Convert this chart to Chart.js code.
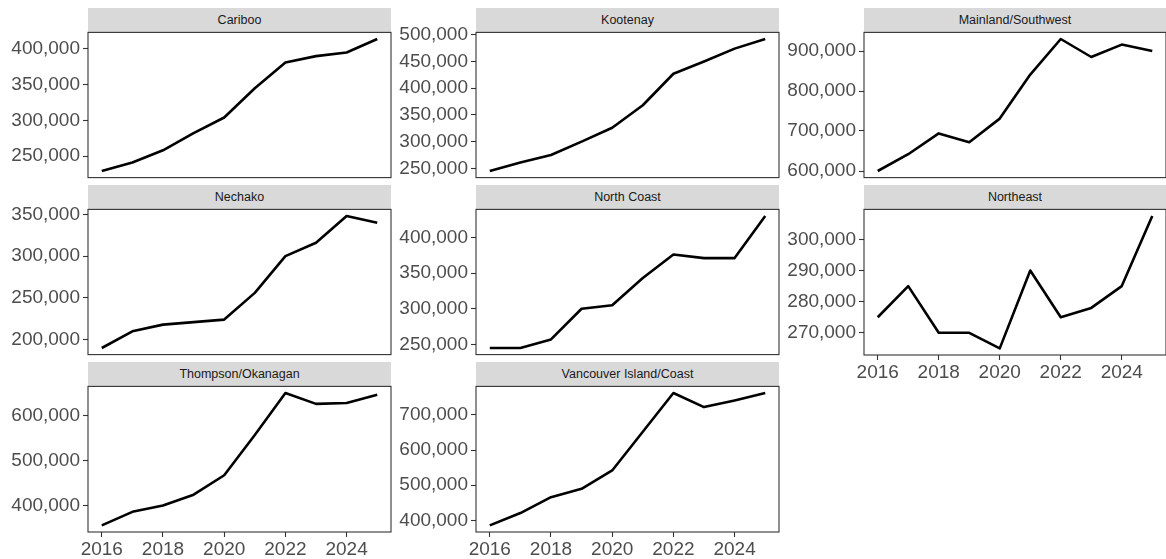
<!DOCTYPE html>
<html>
<head>
<meta charset="utf-8">
<title>Regional values 2016-2025</title>
<script src="https://cdn.jsdelivr.net/npm/chart.js@4/dist/chart.umd.min.js"></script>
<style>
  body { margin: 0; background: #fff; }
  #grid { position: relative; width: 1166px; height: 559px; overflow: hidden; }
  .strip {
    position: absolute; height: 24px; background: #d9d9d9;
    text-align: center; color: #1a1a1a;
    font: 12.5px "Liberation Sans", Arial, sans-serif; line-height: 25px;
  }
  canvas { position: absolute; }
</style>
</head>
<body>
<div id="grid"></div>
<script>
const years = [2016, 2017, 2018, 2019, 2020, 2021, 2022, 2023, 2024, 2025];
const yearTicks = [2016, 2018, 2020, 2022, 2024];

const regions = ['Cariboo', 'Kootenay', 'Mainland/Southwest', 'Nechako', 'North Coast',
                 'Northeast', 'Thompson/Okanagan', 'Vancouver Island/Coast'];

const cariboo = [229000, 241000, 258000, 282000, 304000, 345000, 381000, 390000, 395000, 414000];
const kootenay = [245000, 261000, 275000, 300000, 326000, 368000, 427000, 450000, 474000, 492000];
const mainland = [600000, 642000, 694000, 672000, 731000, 841000, 930000, 885000, 916000, 900000];
const nechako = [190000, 210000, 218000, 221000, 224000, 256000, 300000, 316000, 348000, 340000];
const northCoast = [245000, 245000, 257000, 300000, 305000, 343000, 376000, 371000, 371000, 430000];
const northeast = [275000, 285000, 270000, 270000, 265000, 290000, 275000, 278000, 285000, 307500];
const thompson = [357000, 387000, 401000, 425000, 468000, 557000, 650000, 626000, 628000, 646000];
const vancouverIsland = [386000, 421000, 466000, 490000, 542000, 652000, 762000, 722000, 741000, 762000];

const caribooTicks = [250000, 300000, 350000, 400000];
const kootenayTicks = [250000, 300000, 350000, 400000, 450000, 500000];
const mainlandTicks = [600000, 700000, 800000, 900000];
const nechakoTicks = [200000, 250000, 300000, 350000];
const northCoastTicks = [250000, 300000, 350000, 400000];
const northeastTicks = [270000, 280000, 290000, 300000];
const thompsonTicks = [400000, 500000, 600000];
const vancouverIslandTicks = [400000, 500000, 600000, 700000];

const series = [cariboo, kootenay, mainland, nechako, northCoast, northeast, thompson, vancouverIsland];
const tickSets = [caribooTicks, kootenayTicks, mainlandTicks, nechakoTicks, northCoastTicks,
                  northeastTicks, thompsonTicks, vancouverIslandTicks];

// facet geometry
const colLeft = [88, 476, 864];
const colWidth = [303, 303, 302];
const rowTop = [32, 209, 386];
const plotH = 146;
const stripH = 24;
const axisW = 85;
const padTop = 14;
const xAxisH = 28;
const FONT = '"Liberation Sans", Arial, sans-serif';

// black frame around each panel
const frame = {
  id: 'frame',
  afterDatasetsDraw(chart) {
    const { ctx, chartArea: a } = chart;
    ctx.save();
    ctx.strokeStyle = '#333';
    ctx.lineWidth = 1.1;
    ctx.strokeRect(a.left, a.top, a.right - a.left, a.bottom - a.top);
    ctx.restore();
  }
};

function expand(vals, mult) {
  const lo = Math.min(...vals), hi = Math.max(...vals);
  const pad = (hi - lo) * mult;
  return [lo - pad, hi + pad];
}

const grid = document.getElementById('grid');

regions.forEach((name, i) => {
  const col = i % 3, row = Math.floor(i / 3);
  const left = colLeft[col], top = rowTop[row], w = colWidth[col];
  // bottom panel of each column carries the year axis
  const showX = (row === 2) || (row === 1 && col === 2);

  const strip = document.createElement('div');
  strip.className = 'strip';
  strip.style.left = left + 'px';
  strip.style.top = (top - stripH) + 'px';
  strip.style.width = w + 'px';
  strip.textContent = name;
  grid.appendChild(strip);

  const canvas = document.createElement('canvas');
  const cw = axisW + w + 3;
  const ch = padTop + plotH + (showX ? xAxisH : padTop);
  canvas.width = cw;
  canvas.height = ch;
  canvas.style.left = (left - axisW) + 'px';
  canvas.style.top = (top - padTop) + 'px';
  canvas.style.width = cw + 'px';
  canvas.style.height = ch + 'px';
  grid.appendChild(canvas);

  const vals = series[i];
  const [yMin, yMax] = expand(vals, 0.05);
  const yTicks = tickSets[i];

  new Chart(canvas.getContext('2d'), {
    type: 'line',
    data: {
      datasets: [{
        data: years.map((yr, k) => ({ x: yr, y: vals[k] })),
        borderColor: '#000',
        borderWidth: 2.6,
        borderJoinStyle: 'round',
        pointRadius: 0,
        tension: 0,
        fill: false
      }]
    },
    options: {
      responsive: false,
      animation: false,
      events: [],
      layout: { padding: { top: padTop, right: 3, bottom: showX ? 0 : padTop, left: 0 } },
      plugins: { legend: { display: false }, tooltip: { enabled: false } },
      scales: {
        x: {
          type: 'linear',
          display: showX,
          min: 2015.55,
          max: 2025.45,
          afterBuildTicks: s => { s.ticks = yearTicks.map(v => ({ value: v })); },
          afterFit: s => { s.height = showX ? xAxisH : 0; },
          grid: { drawOnChartArea: false, tickLength: 5, tickColor: '#333', tickWidth: 1.1 },
          border: { display: false },
          ticks: {
            color: '#4d4d4d', padding: 1, maxRotation: 0, autoSkip: false,
            font: { size: 19, family: FONT },
            callback: v => String(v)
          }
        },
        y: {
          type: 'linear',
          min: yMin,
          max: yMax,
          afterBuildTicks: s => { s.ticks = yTicks.map(v => ({ value: v })); },
          afterFit: s => { s.width = axisW; },
          grid: { drawOnChartArea: false, tickLength: 5, tickColor: '#333', tickWidth: 1.1 },
          border: { display: false },
          ticks: {
            color: '#4d4d4d', padding: 3, autoSkip: false,
            font: { size: 19, family: FONT },
            callback: v => v.toLocaleString('en-US')
          }
        }
      }
    },
    plugins: [frame]
  });
});
</script>
</body>
</html>
